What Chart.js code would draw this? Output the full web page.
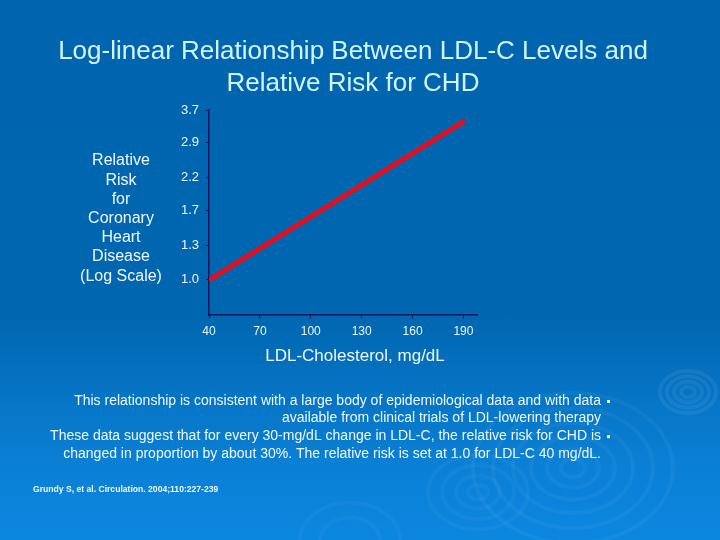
<!DOCTYPE html>
<html>
<head>
<meta charset="utf-8">
<script src="https://cdn.jsdelivr.net/npm/chart.js@4/dist/chart.umd.min.js"></script>
<style>
  html, body { margin: 0; padding: 0; }
  body {
    width: 720px; height: 540px; overflow: hidden;
    background: linear-gradient(180deg, #0065ae 0%, #0066b0 58%, #0a7fd4 85%, #0c87e0 100%);
  }
  #wrap { position: relative; width: 720px; height: 540px; }
</style>
</head>
<body>
<div id="wrap"><canvas id="chart" width="720" height="540"></canvas></div>
<script>
// Data.
const ldl = [41, 190]
const risk = [1.0, 3.4]
const xTicks = [40, 70, 100, 130, 160, 190]
const yTicks = [1.0, 1.3, 1.7, 2.2, 2.9, 3.7]

const titleLines = ['Log-linear Relationship Between LDL-C Levels and', 'Relative Risk for CHD']
const yTitleLines = ['Relative', 'Risk', 'for', 'Coronary', 'Heart', 'Disease', '(Log Scale)']
const xTitle = 'LDL-Cholesterol, mg/dL'
const bodyLines = [
  { text: 'This relationship is consistent with a large body of epidemiological data and with data', bullet: true },
  { text: 'available from clinical trials of LDL-lowering therapy', bullet: false },
  { text: 'These data suggest that for every 30-mg/dL change in LDL-C, the relative risk for CHD is', bullet: true },
  { text: 'changed in proportion by about 30%. The relative risk is set at 1.0 for LDL-C 40 mg/dL.', bullet: false }
]
const source = 'Grundy S, et al. Circulation. 2004;110:227-239'

const font = 'Arial, "Liberation Sans", sans-serif'

// Faint ripples in the background + all slide text.
const slideText = {
  id: 'slideText',
  beforeDraw(chart) {
    const c = chart.ctx
    c.save()
    const rings = [
      { x: 688, y: 392, r: [7, 14, 21, 28], a: 0.07 },
      { x: 573, y: 468, r: [12, 26, 42, 60, 80, 100], a: 0.045 },
      { x: 478, y: 492, r: [10, 22, 36, 50], a: 0.04 },
      { x: 350, y: 540, r: [30, 50], a: 0.035 }
    ]
    rings.forEach(g => {
      g.r.forEach(r => {
        c.beginPath()
        c.ellipse(g.x, g.y, r, r * 0.75, 0, 0, Math.PI * 2)
        c.strokeStyle = `rgba(255,255,255,${g.a})`
        c.lineWidth = 4
        c.stroke()
      })
    })
    c.restore()
  },
  afterDraw(chart) {
    const c = chart.ctx
    c.save()
    c.textBaseline = 'middle'

    c.fillStyle = '#d2f4ff'
    c.textAlign = 'center'
    c.font = `26px ${font}`
    titleLines.forEach((t, i) => c.fillText(t, 353, 52 + i * 32))

    c.fillStyle = '#f0f8ff'
    c.font = `16px ${font}`
    yTitleLines.forEach((t, i) => c.fillText(t, 121, 161 + i * 19.2))

    c.font = `17px ${font}`
    c.fillText(xTitle, 355, 356)

    c.textAlign = 'right'
    c.font = `14px ${font}`
    bodyLines.forEach((l, i) => {
      const y = 401 + i * 17.6
      c.fillText(l.text, 601, y)
      if (l.bullet) c.fillRect(607, y - 1, 3, 3)
    })

    c.textAlign = 'left'
    c.font = `bold 8.6px ${font}`
    c.fillText(source, 33, 490)
    c.restore()
  }
}

new Chart(document.getElementById('chart'), {
  type: 'line',
  data: {
    datasets: [{
      data: ldl.map((x, i) => ({ x: x, y: risk[i] })),
      borderColor: '#e01020',
      borderWidth: 5,
      borderCapStyle: 'round',
      pointRadius: 0,
      tension: 0
    }]
  },
  options: {
    responsive: false,
    animation: false,
    layout: { padding: { left: 0, top: 110, right: 243, bottom: 195 } },
    plugins: { legend: { display: false }, tooltip: { enabled: false } },
    scales: {
      x: {
        type: 'linear',
        min: 40,
        max: 198,
        afterBuildTicks: s => { s.ticks = xTicks.map(v => ({ value: v })) },
        afterFit: s => { s.height = 30 },
        border: { color: '#15155a', width: 1.5 },
        grid: { drawOnChartArea: false, drawTicks: true, tickLength: 4, color: '#15155a' },
        ticks: { color: '#eaf6ff', font: { family: font, size: 12 }, padding: 5, maxRotation: 0 }
      },
      y: {
        type: 'logarithmic',
        min: 0.756,
        max: 3.72,
        afterBuildTicks: s => { s.ticks = yTicks.map(v => ({ value: v })) },
        afterFit: s => { s.width = 209 },
        border: { color: '#15155a', width: 1.5 },
        grid: { drawOnChartArea: false, drawTicks: true, tickLength: 3, color: '#15155a' },
        ticks: {
          color: '#eaf6ff',
          font: { family: font, size: 13 },
          padding: 7,
          callback: v => Number(v).toFixed(1)
        }
      }
    }
  },
  plugins: [slideText]
})
</script>
</body>
</html>
